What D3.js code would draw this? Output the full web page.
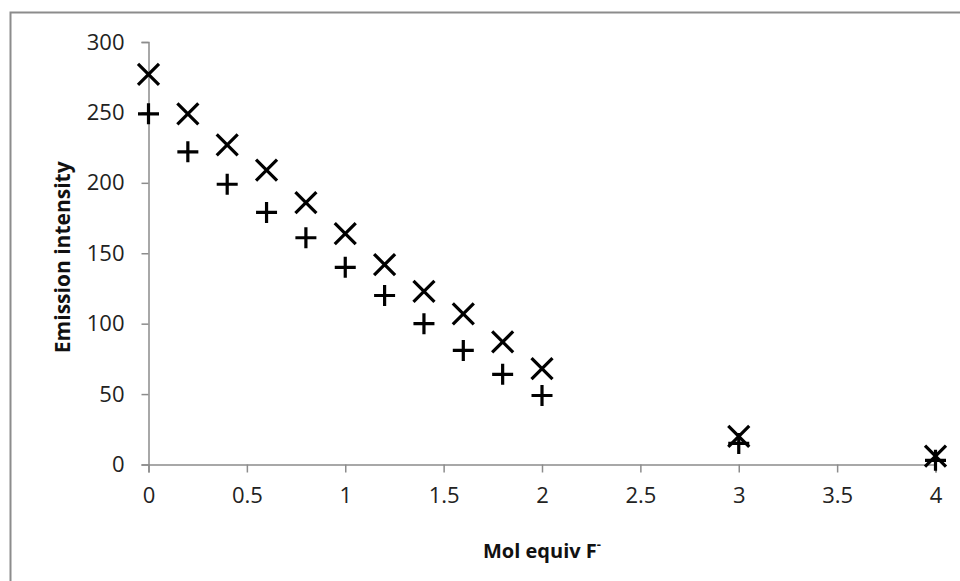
<!DOCTYPE html>
<html>
<head>
<meta charset="utf-8">
<script src="https://cdn.jsdelivr.net/npm/d3@7"></script>
<style>
  html, body { margin: 0; padding: 0; background: #fff; }
  svg { display: block; }
</style>
</head>
<body>
<svg id="chart" width="960" height="581"></svg>
<script>
// Emission titration data: intensity vs. equivalents of fluoride added
const molEquiv = [0, 0.2, 0.4, 0.6, 0.8, 1.0, 1.2, 1.4, 1.6, 1.8, 2.0, 3, 4];
const seriesCross = [277, 249, 227, 209, 186, 164, 142, 123, 107, 87, 68, 20, 6];
const seriesPlus  = [249, 222, 199, 179, 161, 140, 120, 100, 81, 64, 49, 15, 3];
const xTicks = [0, 0.5, 1, 1.5, 2, 2.5, 3, 3.5, 4];
const yTicks = [0, 50, 100, 150, 200, 250, 300];

const svg = d3.select("#chart");
const W = 960, H = 581;
const font = "'Open Sans', 'Liberation Sans', sans-serif";

// chart area frame (only left and top edges fall inside the canvas)
svg.append("rect")
  .attr("x", 10.5).attr("y", 12.5)
  .attr("width", W + 20).attr("height", H + 20)
  .attr("fill", "#fff")
  .attr("stroke", "#8c8c8c").attr("stroke-width", 2);

const x = d3.scaleLinear().domain([0, 4]).range([148.5, 935.5]);
const y = d3.scaleLinear().domain([0, 300]).range([464.5, 42]);

const axisColor = "#8c8c8c";

// y axis
const yAxis = svg.append("g")
  .attr("transform", `translate(${x(0)},0)`)
  .call(d3.axisLeft(y).tickValues(yTicks).tickSize(7).tickPadding(17).tickFormat(d3.format("d")));
yAxis.select(".domain").attr("stroke", axisColor).attr("stroke-width", 1.5);
yAxis.selectAll(".tick line").attr("stroke", axisColor).attr("stroke-width", 1.5);
yAxis.selectAll(".tick text")
  .attr("font-family", font).attr("font-size", 22).attr("fill", "#222");

// x axis
const xAxis = svg.append("g")
  .attr("transform", `translate(0,${y(0)})`)
  .call(d3.axisBottom(x).tickValues(xTicks).tickSize(8).tickPadding(15).tickFormat(d => String(d)));
xAxis.select(".domain").attr("stroke", axisColor).attr("stroke-width", 1.5);
xAxis.selectAll(".tick line").attr("stroke", axisColor).attr("stroke-width", 1.5);
xAxis.selectAll(".tick text")
  .attr("font-family", font).attr("font-size", 22).attr("fill", "#222");

// axis titles
svg.append("text")
  .attr("transform", `translate(70,${(y(0) + y(300)) / 2 + 4}) rotate(-90)`)
  .attr("text-anchor", "middle")
  .attr("font-family", font).attr("font-weight", "bold").attr("font-size", 21)
  .attr("fill", "#111")
  .text("Emission intensity");

const xt = svg.append("text")
  .attr("x", (x(0) + x(4)) / 2).attr("y", 558)
  .attr("text-anchor", "middle")
  .attr("font-family", font).attr("font-weight", "bold").attr("font-size", 20)
  .attr("fill", "#111");
xt.append("tspan").text("Mol equiv F");
xt.append("tspan").attr("font-size", 13).attr("dy", -9).text("-");

// markers
const half = 10.5;
const crossG = svg.append("g");
molEquiv.forEach((m, i) => {
  const cx = x(m), cy = y(seriesCross[i]);
  crossG.append("path")
    .attr("d", `M${cx - half},${cy - half}L${cx + half},${cy + half}M${cx - half},${cy + half}L${cx + half},${cy - half}`)
    .attr("stroke", "#000").attr("stroke-width", 3.2).attr("fill", "none");
});
const plusG = svg.append("g");
molEquiv.forEach((m, i) => {
  const cx = x(m), cy = y(seriesPlus[i]);
  plusG.append("path")
    .attr("d", `M${cx - half},${cy}L${cx + half},${cy}M${cx},${cy - half}L${cx},${cy + half}`)
    .attr("stroke", "#000").attr("stroke-width", 3.2).attr("fill", "none");
});
</script>
</body>
</html>
